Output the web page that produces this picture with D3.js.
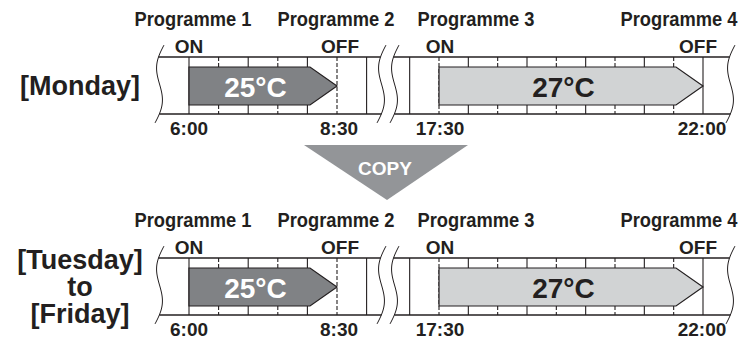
<!DOCTYPE html>
<html>
<head>
<meta charset="utf-8">
<script src="https://cdn.jsdelivr.net/npm/d3@7"></script>
<style>
  body { margin: 0; background: #fff; }
  text { font-family: "Liberation Sans", Arial, sans-serif; font-weight: bold; }
</style>
</head>
<body>
<div id="chart"></div>
<script>
// data
var programmes = ["Programme 1", "Programme 2", "Programme 3", "Programme 4"];
var switchLabels = ["ON", "OFF", "ON", "OFF"];
var switchTimes = ["6:00", "8:30", "17:30", "22:00"];
var temperatures = ["25°C", "27°C"];
var dayLabels = [["[Monday]"], ["[Tuesday]", "to", "[Friday]"]];
var copyLabel = "COPY";

var ink = "#231f20";
var barFills = ["#808285", "#d1d3d4"];
var barText = ["#fff", ink];

function toMin(s) { var p = s.split(":"); return +p[0] * 60 + +p[1]; }
var mins = switchTimes.map(toMin);

var svg = d3.select("#chart").append("svg")
    .attr("width", 744)
    .attr("height", 343);

// two broken segments of the time axis
var xLeft = d3.scaleLinear().domain([mins[0], mins[1]]).range([189, 337]);
var xRight = d3.scaleLinear().domain([mins[2], mins[3]]).range([439, 703]);
function xOf(i) { return i < 2 ? xLeft(mins[i]) : xRight(mins[i]); }

var stripTop = 57, stripBot = 114, barTop = 67, barBot = 105;
var waveTop = 45, waveBot = 123;

function waveX(x0, y) {
    var t = (y - waveTop) / (waveBot - waveTop);
    return x0 + 4 - 9 * t - 5 * Math.sin(2 * Math.PI * t);
}
function wavePath(x0) {
    var pts = d3.range(waveTop, waveBot + 0.1, 2).map(function (y) { return [waveX(x0, y), y]; });
    return d3.line().curve(d3.curveBasis)(pts);
}

var leftTicks = d3.range(mins[0], 9 * 60 + 1, 30);
var rightTicks = d3.range(17 * 60, mins[3] + 1, 30);

var waves = [160, 382, 395, 731];

function drawPanel(g, days) {
    // strips
    [[waves[0], waves[1]], [waves[2], waves[3]]].forEach(function (s) {
        [stripTop, stripBot].forEach(function (y) {
            g.append("line")
                .attr("x1", waveX(s[0], y)).attr("x2", waveX(s[1], y))
                .attr("y1", y).attr("y2", y)
                .attr("stroke", ink).attr("stroke-width", 1.5);
        });
    });

    // grid lines (hour solid, half hour dashed)
    function grid(ticks, sc) {
        ticks.forEach(function (m) {
            g.append("line")
                .attr("x1", sc(m)).attr("x2", sc(m))
                .attr("y1", stripTop).attr("y2", stripBot)
                .attr("stroke", ink).attr("stroke-width", 1.1)
                .attr("stroke-dasharray", m % 60 ? "4,2" : null);
        });
    }
    grid(leftTicks, xLeft);
    grid(rightTicks, xRight);

    // wavy breaks
    waves.forEach(function (x0) {
        g.append("path").attr("d", wavePath(x0))
            .attr("fill", "none").attr("stroke", ink).attr("stroke-width", 1);
    });

    // temperature bars
    temperatures.forEach(function (t, k) {
        var x0 = xOf(2 * k), x1 = xOf(2 * k + 1), sh = x1 - 27, mid = (barTop + barBot) / 2;
        g.append("path")
            .attr("d", "M" + x0 + "," + barTop + "L" + sh + "," + barTop + "L" + x1 + "," + mid +
                "L" + sh + "," + barBot + "L" + x0 + "," + barBot + "Z")
            .attr("fill", barFills[k]).attr("stroke", ink).attr("stroke-width", 1.2);
        g.append("text")
            .attr("x", (x0 + sh) / 2 + 6).attr("y", mid + 11)
            .attr("text-anchor", "middle")
            .attr("font-size", 28)
            .attr("fill", barText[k])
            .text(t);
    });

    // labels
    var progDx = [4, -1, 37, -24];
    programmes.forEach(function (p, i) {
        g.append("text")
            .attr("x", xOf(i) + progDx[i]).attr("y", 26)
            .attr("text-anchor", "middle")
            .attr("font-size", 19.5)
            .attr("textLength", 117).attr("lengthAdjust", "spacingAndGlyphs")
            .attr("fill", ink).text(p);
    });
    var swDx = [0, 3, 1, -5];
    switchLabels.forEach(function (s, i) {
        g.append("text")
            .attr("x", xOf(i) + swDx[i]).attr("y", 53)
            .attr("text-anchor", "middle")
            .attr("font-size", 19)
            .attr("fill", ink).text(s);
    });
    var tDx = [0, 2, 1, -1];
    switchTimes.forEach(function (s, i) {
        g.append("text")
            .attr("x", xOf(i) + tDx[i]).attr("y", 135)
            .attr("text-anchor", "middle")
            .attr("font-size", 19)
            .attr("fill", ink).text(s);
    });

    // day label
    days.forEach(function (d, i) {
        g.append("text")
            .attr("x", 80).attr("y", 94.5 + (i - (days.length - 1) / 2) * 27)
            .attr("text-anchor", "middle")
            .attr("font-size", 27)
            .attr("fill", ink).text(d);
    });
}

var offsets = [0, 201];
dayLabels.forEach(function (d, i) {
    drawPanel(svg.append("g").attr("transform", "translate(0," + offsets[i] + ")"), d);
});

// copy arrow
svg.append("path")
    .attr("d", "M304,145L468,145L387,200Z")
    .attr("fill", "#939598");
svg.append("text")
    .attr("x", 385).attr("y", 175)
    .attr("text-anchor", "middle")
    .attr("font-size", 19)
    .attr("fill", "#fff").text(copyLabel);
</script>
</body>
</html>
